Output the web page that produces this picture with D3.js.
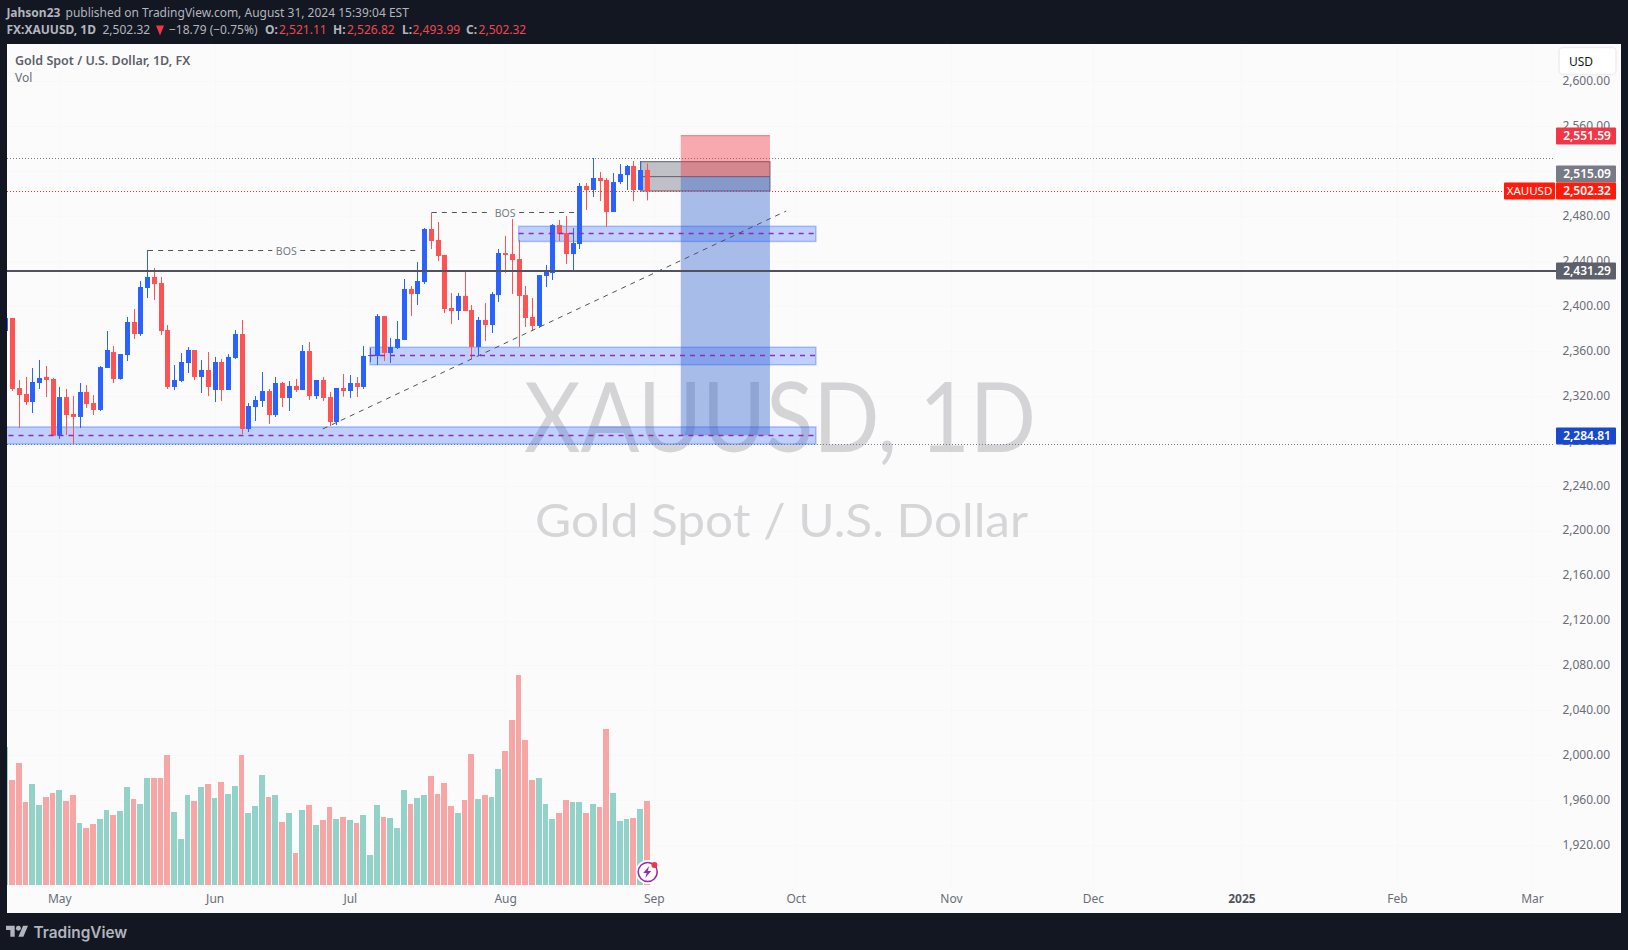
<!DOCTYPE html>
<html>
<head>
<meta charset="utf-8">
<script src="https://cdn.jsdelivr.net/npm/d3@7/dist/d3.min.js"></script>
<style>
html,body{margin:0;padding:0;background:#131722;overflow:hidden}
svg{display:block}
text{font-family:"Noto Sans",sans-serif}
</style>
</head>
<body>
<svg id="c" width="1628" height="950"></svg>
<script>
// index -1 is the candle cut off by the left edge of the chart
const firstIndex = -1;
const opens = [2377.7,2389.3,2326.9,2321.6,2314.5,2331.4,2336.8,2335.0,2284.5,2318.9,2303.8,2301.2,2323.4,2313.6,2307.4,2344.8,2359.0,2335.0,2356.3,2385.7,2375.0,2416.0,2425.8,2420.4,2378.6,2327.9,2333.2,2349.2,2360.8,2336.8,2343.0,2325.2,2350.1,2325.2,2353.7,2375.0,2290.5,2310.0,2315.4,2324.3,2302.9,2331.4,2318.1,2328.8,2325.2,2359.9,2319.8,2334.1,2318.9,2296.7,2327.0,2324.3,2331.4,2327.9,2355.8,2355.4,2391.0,2358.1,2362.6,2369.7,2415.1,2410.6,2421.3,2468.5,2458.7,2445.4,2398.2,2395.5,2408.9,2396.4,2363.5,2387.5,2383.0,2409.7,2447.1,2446.2,2441.8,2409.7,2390.2,2382.2,2426.7,2429.3,2472.0,2464.9,2446.2,2455.1,2506.8,2503.2,2513.9,2512.1,2483.6,2510.3,2516.5,2524.6,2503.2,2521.11];
const highs = [2389.3,2389.3,2334.1,2336.8,2344.8,2351.9,2346.5,2335.9,2327.9,2326.1,2319.8,2331.4,2329.6,2320.7,2346.5,2377.7,2364.4,2357.2,2390.2,2397.3,2422.2,2449.8,2433.8,2425.8,2383.0,2347.4,2358.1,2363.5,2360.8,2351.9,2359.0,2354.6,2352.8,2357.2,2378.6,2387.5,2313.6,2319.8,2341.2,2326.1,2336.8,2332.3,2333.2,2335.0,2365.2,2367.9,2334.1,2336.8,2323.4,2327.0,2339.4,2338.5,2336.8,2364.4,2362.6,2392.8,2391.0,2371.5,2386.6,2424.0,2417.8,2439.1,2469.4,2483.3,2474.7,2445.4,2411.5,2411.5,2432.0,2400.8,2390.2,2402.6,2412.4,2450.7,2462.3,2477.4,2458.7,2417.8,2407.1,2427.5,2436.5,2472.9,2476.5,2480.1,2469.4,2509.4,2509.4,2531.7,2519.2,2513.9,2518.3,2526.3,2525.4,2529.0,2529.0,2526.82];
const lows = [2376.0,2324.3,2291.4,2311.8,2304.7,2326.1,2318.9,2284.5,2281.6,2285.1,2276.5,2291.4,2309.2,2302.9,2306.5,2344.8,2331.4,2334.4,2351.0,2370.6,2373.3,2407.1,2405.3,2374.1,2326.1,2325.2,2332.3,2340.3,2334.1,2322.5,2319.8,2314.5,2315.4,2325.2,2352.8,2286.0,2287.8,2297.6,2310.0,2294.9,2301.2,2310.0,2306.5,2323.4,2325.2,2316.3,2317.2,2315.4,2293.1,2294.0,2319.3,2318.1,2319.0,2326.1,2350.1,2347.4,2351.0,2349.2,2361.7,2369.7,2391.0,2400.8,2419.5,2450.7,2440.0,2393.7,2383.9,2387.5,2395.5,2352.8,2355.4,2368.8,2375.9,2403.5,2429.3,2410.6,2363.5,2381.3,2377.7,2380.4,2416.9,2423.1,2457.8,2437.3,2432.0,2450.7,2485.4,2497.0,2493.4,2470.3,2483.6,2508.5,2503.2,2493.4,2503.2,2493.99];
const closes = [2389.3,2326.1,2320.7,2314.5,2332.3,2335.9,2334.1,2284.5,2318.9,2302.9,2301.2,2323.4,2312.7,2307.4,2345.6,2360.8,2335.0,2357.2,2385.7,2375.0,2416.9,2425.8,2419.5,2377.7,2327.9,2334.1,2350.1,2360.8,2336.8,2343.0,2327.9,2350.1,2325.2,2354.6,2375.0,2290.5,2310.9,2316.3,2324.3,2302.9,2331.4,2318.1,2328.8,2325.2,2359.9,2319.8,2334.1,2318.1,2296.7,2327.0,2324.3,2331.4,2327.9,2355.5,2356.3,2391.0,2358.1,2363.5,2370.6,2415.1,2410.6,2422.2,2468.5,2457.8,2444.5,2397.3,2395.5,2408.9,2395.5,2363.5,2387.5,2383.0,2410.6,2447.1,2445.4,2440.9,2408.9,2389.3,2382.2,2427.5,2431.1,2472.0,2464.0,2446.2,2456.0,2506.8,2503.2,2513.9,2511.2,2483.6,2510.3,2517.4,2524.6,2503.2,2521.0,2502.32];
const volumes = [138,105,122,83,101,80,88,92,95,84,90,62,57,61,66,75,70,74,98,86,81,107,107,107,130,73,46,90,84,98,101,87,103,91,99,130,72,79,110,88,90,63,72,32,75,80,60,65,78,66,68,65,62,70,30,80,68,67,57,95,81,87,90,109,91,102,79,72,85,131,86,90,88,116,134,165,210,145,105,107,81,66,72,85,83,83,72,81,78,156,92,64,66,67,76,84];

const priceTicks = [1920,1960,2000,2040,2080,2120,2160,2200,2240,2280,2320,2360,2400,2440,2480,2520,2560,2600];
const timeTickIndex = [7,30,50,73,95,116,139,160,182,205,225];
const timeTickLabels = ["May","Jun","Jul","Aug","Sep","Oct","Nov","Dec","2025","Feb","Mar"];

const lastPrice = 2502.32, hLevel = 2431.29, stopLevel = 2551.59, entryLevel = 2515.09, targetLevel = 2284.81;
const highDotted = 2531.4, lowDotted = 2277.0;
const zonePrices = [[2292.3,2277.1],[2363.2,2347.7],[2470.9,2457.4]];
const zoneMid = [2284.81,2356.0,2464.7];
const zoneStartIndex = [-2,53,75];
const zoneEndIndex = 119;
const bosLines = [[20,60,2449.8,40.6],[62,84,2484,73]];
const trendIndex = [46,114.6], trendPrice = [2290.5,2484.5];
const positionIndex = [99,112.2];
const greyBox = {start:93, end:112.2, top:2528.4, mid:2515.09, bottom:2502.32};

const C = {bg:"#131722",plot:"#fbfbfb",up:"#2962ff",dn:"#ff5252",vUp:"#92d2c9",vDn:"#f7a6a5"};
const L=7,R=1621,T=44,B=913;

const x = d3.scaleLinear().domain([0,94]).range([12,647]);
const y = d3.scaleLinear().domain([2502.32,1920]).range([191,845.2]);
const v = d3.scaleLinear().domain([0,210]).range([885,675]);

const svg = d3.select("#c");
const defs = svg.append("defs");
defs.append("clipPath").attr("id","plot").append("rect").attr("x",L).attr("y",T).attr("width",R-L).attr("height",B-T);
svg.append("rect").attr("width",1628).attr("height",950).attr("fill",C.bg);
svg.append("rect").attr("x",L).attr("y",T).attr("width",R-L).attr("height",B-T).attr("fill",C.plot);

const plot = svg.append("g").attr("clip-path","url(#plot)");
// faint grid
plot.selectAll(".gh").data(priceTicks).join("line").attr("x1",L).attr("x2",1553)
  .attr("y1",d=>Math.round(y(d))+.5).attr("y2",d=>Math.round(y(d))+.5).attr("stroke","#f8f8f8");
plot.selectAll(".gv").data(timeTickIndex).join("line").attr("y1",T).attr("y2",885)
  .attr("x1",d=>Math.round(x(d))+.5).attr("x2",d=>Math.round(x(d))+.5).attr("stroke","#f8f8f8");

// watermark
plot.append("text").attr("x",524).attr("y",452).attr("textLength",512).attr("lengthAdjust","spacingAndGlyphs")
  .attr("font-size",96).attr("fill","#d4d4d6").attr("style","font-family:Lato,sans-serif").text("XAUUSD, 1D");
plot.append("text").attr("x",535).attr("y",536.5).attr("textLength",493).attr("lengthAdjust","spacingAndGlyphs")
  .attr("font-size",47).attr("fill","#d6d6d8").attr("style","font-family:Lato,sans-serif").text("Gold Spot / U.S. Dollar");

// volume
const idx = opens.map((_,i)=>i+firstIndex);
const isUp = i => closes[i-firstIndex] >= opens[i-firstIndex];
plot.selectAll(".vol").data(idx).join("rect")
  .attr("x",i=>Math.round(x(i)-3))
  .attr("width",i=>Math.round(x(i+1)-3)-Math.round(x(i)-3)-1)
  .attr("y",i=>Math.round(v(volumes[i-firstIndex])))
  .attr("height",i=>885-Math.round(v(volumes[i-firstIndex])))
  .attr("fill",i=>isUp(i)?C.vUp:C.vDn);

// horizontal levels
function hline(p,col,w,dash,x2){
  const yy=Math.round(y(p));
  plot.append("line").attr("x1",L).attr("x2",x2).attr("y1",yy+(w%2?.5:0)).attr("y2",yy+(w%2?.5:0))
    .attr("stroke",col).attr("stroke-width",w).attr("stroke-dasharray",dash||null);
}
hline(highDotted,"#787b86",1,"1 2",1553);
hline(lowDotted,"#787b86",1,"1 2",1553);

// zones
zonePrices.forEach((z,k)=>{
  plot.append("rect").attr("x",x(zoneStartIndex[k])).attr("y",y(z[0]))
    .attr("width",x(zoneEndIndex)-x(zoneStartIndex[k])).attr("height",y(z[1])-y(z[0]))
    .attr("fill","#2962ff").attr("fill-opacity",.28).attr("stroke","#2962ff").attr("stroke-opacity",.35).attr("stroke-width",1.5);
});

// grey box (below the candles)
const g0=x(greyBox.start)+.5,g1=x(greyBox.end);
plot.append("rect").attr("x",g0).attr("y",y(greyBox.top)).attr("width",g1-g0).attr("height",y(greyBox.bottom)-y(greyBox.top))
  .attr("fill","#787b86").attr("fill-opacity",.45).attr("stroke","#5d606b").attr("stroke-width",1);
plot.append("line").attr("x1",g0).attr("x2",g1).attr("y1",y(greyBox.mid)).attr("y2",y(greyBox.mid)).attr("stroke","#5d606b").attr("stroke-width",1);

// candles
const cg = plot.append("g");
cg.selectAll(".wick").data(idx).join("rect")
  .attr("x",i=>Math.round(x(i))).attr("width",1)
  .attr("y",i=>y(highs[i-firstIndex])).attr("height",i=>y(lows[i-firstIndex])-y(highs[i-firstIndex]))
  .attr("fill",i=>isUp(i)?C.up:C.dn);
cg.selectAll(".body").data(idx).join("rect")
  .attr("x",i=>Math.round(x(i))-2).attr("width",5)
  .attr("y",i=>y(Math.max(opens[i-firstIndex],closes[i-firstIndex])))
  .attr("height",i=>Math.max(1,Math.abs(y(opens[i-firstIndex])-y(closes[i-firstIndex]))))
  .attr("fill",i=>isUp(i)?C.up:C.dn);

// short position
const px0=x(positionIndex[0]),px1=x(positionIndex[1]);
plot.append("rect").attr("x",px0).attr("y",y(stopLevel)).attr("width",px1-px0).attr("height",y(entryLevel)-y(stopLevel))
  .attr("fill","#f23645").attr("fill-opacity",.42);
plot.append("rect").attr("x",px0).attr("y",y(entryLevel)).attr("width",px1-px0).attr("height",y(targetLevel)-y(entryLevel))
  .attr("fill","#2d5fd2").attr("fill-opacity",.4);
plot.append("line").attr("x1",px0).attr("x2",px1).attr("y1",y(stopLevel)).attr("y2",y(stopLevel)).attr("stroke","#f23645").attr("stroke-opacity",.6);

// zone mid dashes
zoneMid.forEach((m,k)=>{
  const yy=Math.round(y(m))+.5;
  plot.append("line").attr("x1",x(zoneStartIndex[k])).attr("x2",x(zoneEndIndex)).attr("y1",yy).attr("y2",yy)
    .attr("stroke","#9c27b0").attr("stroke-width",1.4).attr("stroke-dasharray","5 5");
});

// last price and solid level
hline(lastPrice,"#ff2a2a",1,"1 2",1503);
hline(hLevel,"#50535e",2,null,1556);

// trend line
plot.append("line").attr("x1",x(trendIndex[0])).attr("y1",y(trendPrice[0])).attr("x2",x(trendIndex[1])).attr("y2",y(trendPrice[1]))
  .attr("stroke","#50535e").attr("stroke-width",1).attr("stroke-dasharray","5 5");

// BOS
bosLines.forEach(b=>{
  const a=x(b[0]),e=x(b[1]),yy=Math.round(y(b[2]))+.5,mid=x(b[3]);
  plot.append("line").attr("x1",a+1).attr("x2",mid-14).attr("y1",yy).attr("y2",yy).attr("stroke","#50535e").attr("stroke-dasharray","5 5");
  plot.append("line").attr("x1",mid+14).attr("x2",e).attr("y1",yy).attr("y2",yy).attr("stroke","#50535e").attr("stroke-dasharray","5 5");
  plot.append("text").attr("x",mid).attr("y",yy+4).attr("text-anchor","middle").attr("font-size",10.5).attr("fill","#787b86").text("BOS");
});

// axes
const yAxis = d3.axisRight(y).tickValues(priceTicks).tickSize(0).tickPadding(0).tickFormat(d3.format(",.2f"));
const gy = svg.append("g").attr("transform","translate(1570,-0.5)").call(yAxis);
gy.select(".domain").remove();
gy.selectAll("text").attr("x",40).attr("text-anchor","end").attr("font-size",12).attr("fill","#6a6d78").attr("font-family",'"Noto Sans",sans-serif');

const xAxis = d3.axisBottom(x).tickValues(timeTickIndex).tickSize(0).tickPadding(0)
  .tickFormat((d,i)=>timeTickLabels[i]);
const gx = svg.append("g").attr("transform","translate(0,894)").call(xAxis);
gx.select(".domain").remove();
gx.selectAll("text").attr("y",0).attr("font-size",12).attr("fill","#6a6d78").attr("font-family",'"Noto Sans",sans-serif')
  .attr("font-weight",d=>d===182?700:400).attr("fill",d=>d===182?"#50535e":"#6a6d78");

// USD button
svg.append("rect").attr("x",1559).attr("y",47.5).attr("width",57).attr("height",27).attr("rx",4)
  .attr("fill","#fff").attr("stroke","#eeeef2").attr("stroke-width",1.5);
svg.append("text").attr("x",1569).attr("y",66).attr("font-size",12).attr("fill","#131722").text("USD");

// price labels
const labels = [
 {t:d3.format(",.2f")(stopLevel),cy:136,bg:"#f23645"},
 {t:d3.format(",.2f")(entryLevel),cy:174,bg:"#787b86"},
 {t:d3.format(",.2f")(lastPrice),cy:191,bg:"#ff1a0a"},
 {t:d3.format(",.2f")(hLevel),cy:271,bg:"#5d606b"},
 {t:d3.format(",.2f")(targetLevel),cy:436,bg:"#1848cc"}
];
labels.forEach(l=>{
  const h=17;
  svg.append("rect").attr("x",1556).attr("y",l.cy-h/2).attr("width",60).attr("height",h).attr("rx",1).attr("fill",l.bg);
  svg.append("text").attr("x",1611).attr("y",l.cy+4.3).attr("text-anchor","end").attr("font-size",12).attr("font-weight",600).attr("fill","#fff").text(l.t);
});
svg.append("rect").attr("x",1504).attr("y",182.5).attr("width",51).attr("height",17).attr("rx",1).attr("fill","#ff1a0a");
svg.append("text").attr("x",1529.5).attr("y",195.3).attr("text-anchor","middle").attr("font-size",11.5).attr("fill","#fff").text("XAUUSD");

// legend
svg.append("text").attr("x",15).attr("y",65).attr("font-size",12.5).attr("font-weight",600).attr("fill","#5d606b").text("Gold Spot / U.S. Dollar, 1D, FX");
svg.append("text").attr("x",15).attr("y",82).attr("font-size",12).attr("fill","#6a6d78").text("Vol");

// header
function t(xp,yp,s,col,w){svg.append("text").attr("x",xp).attr("y",yp).attr("font-size",12).attr("font-weight",w||400).attr("fill",col).text(s);}
const gr="#b2b5be",rd="#f0484d";
t(6.4,17,"Jahson23",gr,700);
t(65.5,17,"published on TradingView.com, August 31, 2024 15:39:04 EST",gr);
t(6.4,34,"FX:XAUUSD, 1D",gr,700);
t(102.5,34,"2,502.32",gr);
svg.append("path").attr("d","M156 25.5h8l-4 10z").attr("fill","#f23645");
t(169,34,"\u221218.79 (\u22120.75%)",gr);
t(265,34,"O:",gr,700); t(279,34,"2,521.11",rd);
t(333,34,"H:",gr,700); t(347,34,"2,526.82",rd);
t(402,34,"L:",gr,700); t(412.5,34,"2,493.99",rd);
t(466,34,"C:",gr,700); t(478.6,34,"2,502.32",rd);

// footer logo
const lg=svg.append("g").attr("transform","translate(6,923.2) scale(.62)").attr("fill",gr);
lg.append("path").attr("d","M14 22H7V11H0V4h14v18zM28 22h-8l7.5-18h8L28 22z");
lg.append("circle").attr("cx",20).attr("cy",8).attr("r",4);
svg.append("text").attr("x",33.5).attr("y",938).attr("font-size",15.4).attr("font-weight",600).attr("fill",gr).attr("style","font-family:Inter,sans-serif").text("TradingView");

// flash icon
const ic=svg.append("g").attr("transform","translate(647.7,872)");
ic.append("circle").attr("r",12).attr("fill","#fff");
ic.append("circle").attr("r",9.5).attr("fill","#fff").attr("stroke","#9c27b0").attr("stroke-width",1.6);
ic.append("path").attr("d","M1.5-6-4.5 1h3.5l-1.5 5 6-7H0z").attr("fill","#9c27b0");
ic.append("circle").attr("cx",6.7).attr("cy",-7).attr("r",3).attr("fill","#f23645");
</script>
</body>
</html>
